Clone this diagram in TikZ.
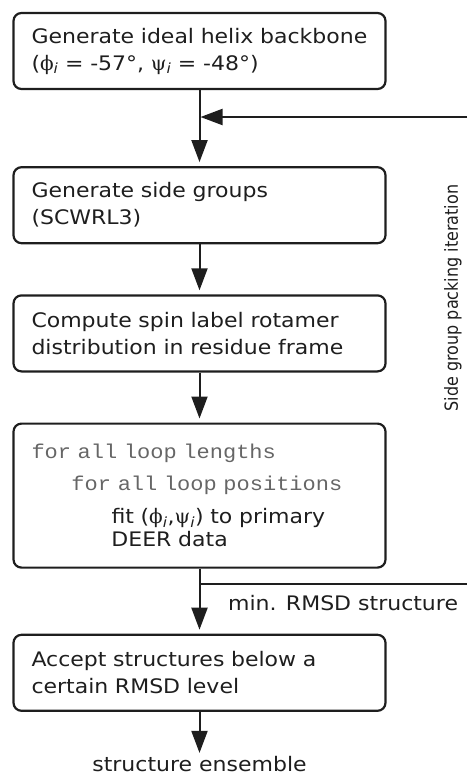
\documentclass[tikz,border=0pt]{standalone}
\usepackage{fontspec}
\setmainfont{DejaVu Sans}[FakeStretch=1.1]
\newfontfamily\loopmono{Liberation Mono}[FakeStretch=1.1]
\newfontfamily\greekfont{DejaVu Serif}
\newfontfamily\plainsans{DejaVu Sans}
\usepackage{xcolor}
\usepackage{tikz}
\usetikzlibrary{positioning,arrows.meta}
\definecolor{FLink}{HTML}{1E1E1E}
\definecolor{FLmono}{HTML}{666666}
\newcommand{\angphi}{{\greekfont ϕ}\textsubscript{\textit{i}}}
\newcommand{\angpsi}{{\greekfont ψ}\textsubscript{\textit{i}}}
\tikzset{
  stepbox/.style={rounded corners=8pt, draw=FLink, line width=2.2pt, align=left, text width=336pt, inner xsep=18pt, minimum height=76pt, font=\fontsize{20}{27}\selectfont, text=FLink},
  flowarr/.style={-{Triangle[length=22pt, width=16pt]}, line width=2pt, draw=FLink, shorten >=4pt},
  flowline/.style={line width=2pt, draw=FLink},
  plainlabel/.style={inner sep=0pt, font=\fontsize{20}{27}\selectfont, text=FLink}
}
\begin{document}
\begin{tikzpicture}[x=1pt, y=1pt, node distance=50pt]
\useasboundingbox (0,0) rectangle (467,-772);
\node[stepbox] (backbone) at (199.5,-51) {Generate ideal helix backbone\\(\angphi{} = -57°, \angpsi{} = -48°)};
\node[stepbox, below=76pt of backbone] (side) {Generate side groups\\(SCWRL3)};
\node[stepbox, below=of side] (rotamer) {Compute spin label rotamer\\distribution in residue frame};
\node[stepbox, below=of rotamer, minimum height=144pt] (loop) {{\loopmono\color{FLmono}for all loop lengths}\\[5pt]\hspace*{40pt}{\loopmono\color{FLmono}for all loop positions}\\[6pt]\hspace*{80pt}fit (\angphi,\angpsi) to primary\\[-4pt]\hspace*{80pt}DEER data};
\node[stepbox, below=65pt of loop] (accept) {Accept structures below a\\certain RMSD level};
\node[plainlabel, below=44pt of accept] (ensemble) {structure ensemble};
\coordinate (fbin) at (467,-117);
\coordinate (fbout) at (467,-584);
\draw[flowarr] (backbone) -- (side);
\draw[flowarr, shorten >=1pt] (fbin) -- (fbin -| backbone.south);
\draw[flowarr] (side) -- (rotamer);
\draw[flowarr] (rotamer) -- (loop);
\draw[flowarr] (loop) -- (accept);
\draw[flowline] (loop.south |- fbout) -- (fbout);
\node[plainlabel, anchor=base west] (rmsd) at (228,-610) {min. RMSD structure};
\draw[flowarr, shorten >=3pt] (accept) -- (ensemble);
\node[rotate=90, inner sep=0pt, font=\plainsans\fontsize{16}{19}\selectfont, text=FLink] (iter) at (453,-298) {\scalebox{1}[1.13]{Side group packing iteration}};
\end{tikzpicture}
\end{document}
